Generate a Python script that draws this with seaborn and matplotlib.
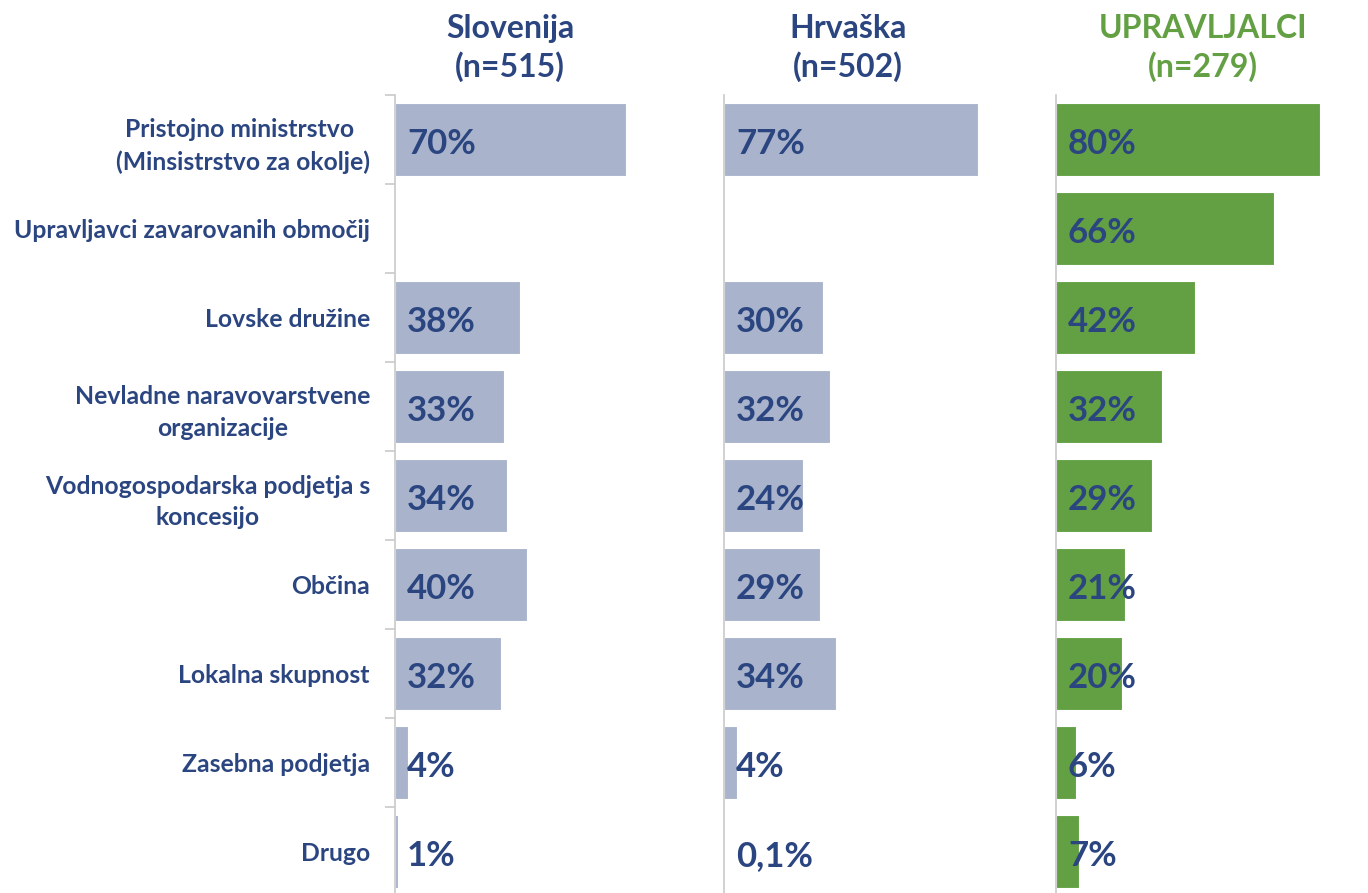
import pandas as pd
import matplotlib
matplotlib.use("Agg")
import matplotlib.pyplot as plt
import seaborn as sns

# Data
categories = [
    "Pristojno ministrstvo \n(Minsistrstvo za okolje)",
    "Upravljavci zavarovanih območij",
    "Lovske družine",
    "Nevladne naravovarstvene\norganizacije",
    "Vodnogospodarska podjetja s\nkoncesijo",
    "Občina",
    "Lokalna skupnost",
    "Zasebna podjetja",
    "Drugo",
]
slovenija = [70, None, 38, 33, 34, 40, 32, 4, 1]
hrvaska = [77, None, 30, 32, 24, 29, 34, 4, 0.1]
upravljalci = [80, 66, 42, 32, 29, 21, 20, 6, 7]

panel_titles = ["Slovenija\n(n=515)", "Hrvaška\n(n=502)", "UPRAVLJALCI\n(n=279)"]

dark_blue = "#2B4580"
grey_blue = "#A9B4CC"
green = "#63A044"
axis_grey = "#C9C9C9"

sns.set_style("white")
plt.rcParams["font.family"] = ["Lato", "DejaVu Sans"]
plt.rcParams["font.weight"] = "bold"

W, H = 1368, 893
fig = plt.figure(figsize=(W / 100, H / 100), dpi=100)

series = [slovenija, hrvaska, upravljalci]
colors = [grey_blue, grey_blue, green]
title_colors = [dark_blue, dark_blue, green]
lefts = [395, 724, 1056]
widths = [330, 330, 312]
title_x = [510, 848, 1203]
px_per_pct = 3.3
ax_top, ax_bottom = 95, 896

for i, vals in enumerate(series):
    df = pd.DataFrame({"kategorija": categories, "delez": vals})
    ax = fig.add_axes([lefts[i] / W, 1 - ax_bottom / H, widths[i] / W, (ax_bottom - ax_top) / H])
    sns.barplot(data=df, x="delez", y="kategorija", order=categories, color=colors[i],
                orient="h", width=0.83, edgecolor="white", linewidth=0.8, ax=ax,
                saturation=1)
    ax.set_xlim(0, widths[i] / px_per_pct)
    ax.set_ylim(8.5, -0.5)
    ax.set_xlabel("")
    ax.set_ylabel("")
    ax.xaxis.set_visible(False)
    for s in ["top", "right", "bottom"]:
        ax.spines[s].set_visible(False)
    ax.spines["left"].set_color(axis_grey)
    ax.spines["left"].set_linewidth(1.2)

    for j, v in enumerate(vals):
        if v is None:
            continue
        txt = (f"{v:g}%").replace(".", ",")
        ax.text(3.6, j + 0.05, txt, ha="left", va="center", color=dark_blue,
                fontsize=25, fontweight="bold")

    if i == 0:
        ax.set_yticks(range(len(categories)))
        ax.set_yticklabels(categories, fontsize=17.8, color=dark_blue, fontweight="bold",
                           ha="right", multialignment="center", linespacing=1.45)
        ax.tick_params(axis="y", which="major", length=0, pad=18)
        ax.set_yticks([k - 0.5 for k in range(len(categories) + 1)], minor=True)
        ax.tick_params(axis="y", which="minor", length=7, width=1.2, color=axis_grey, left=True)
    else:
        ax.set_yticks([])

    fig.text(title_x[i] / W, 1 - 48 / H, panel_titles[i], ha="center", va="center",
             fontsize=23, fontweight="bold", color=title_colors[i], linespacing=1.3)

fig.savefig("out.png", dpi=100, facecolor="white")
